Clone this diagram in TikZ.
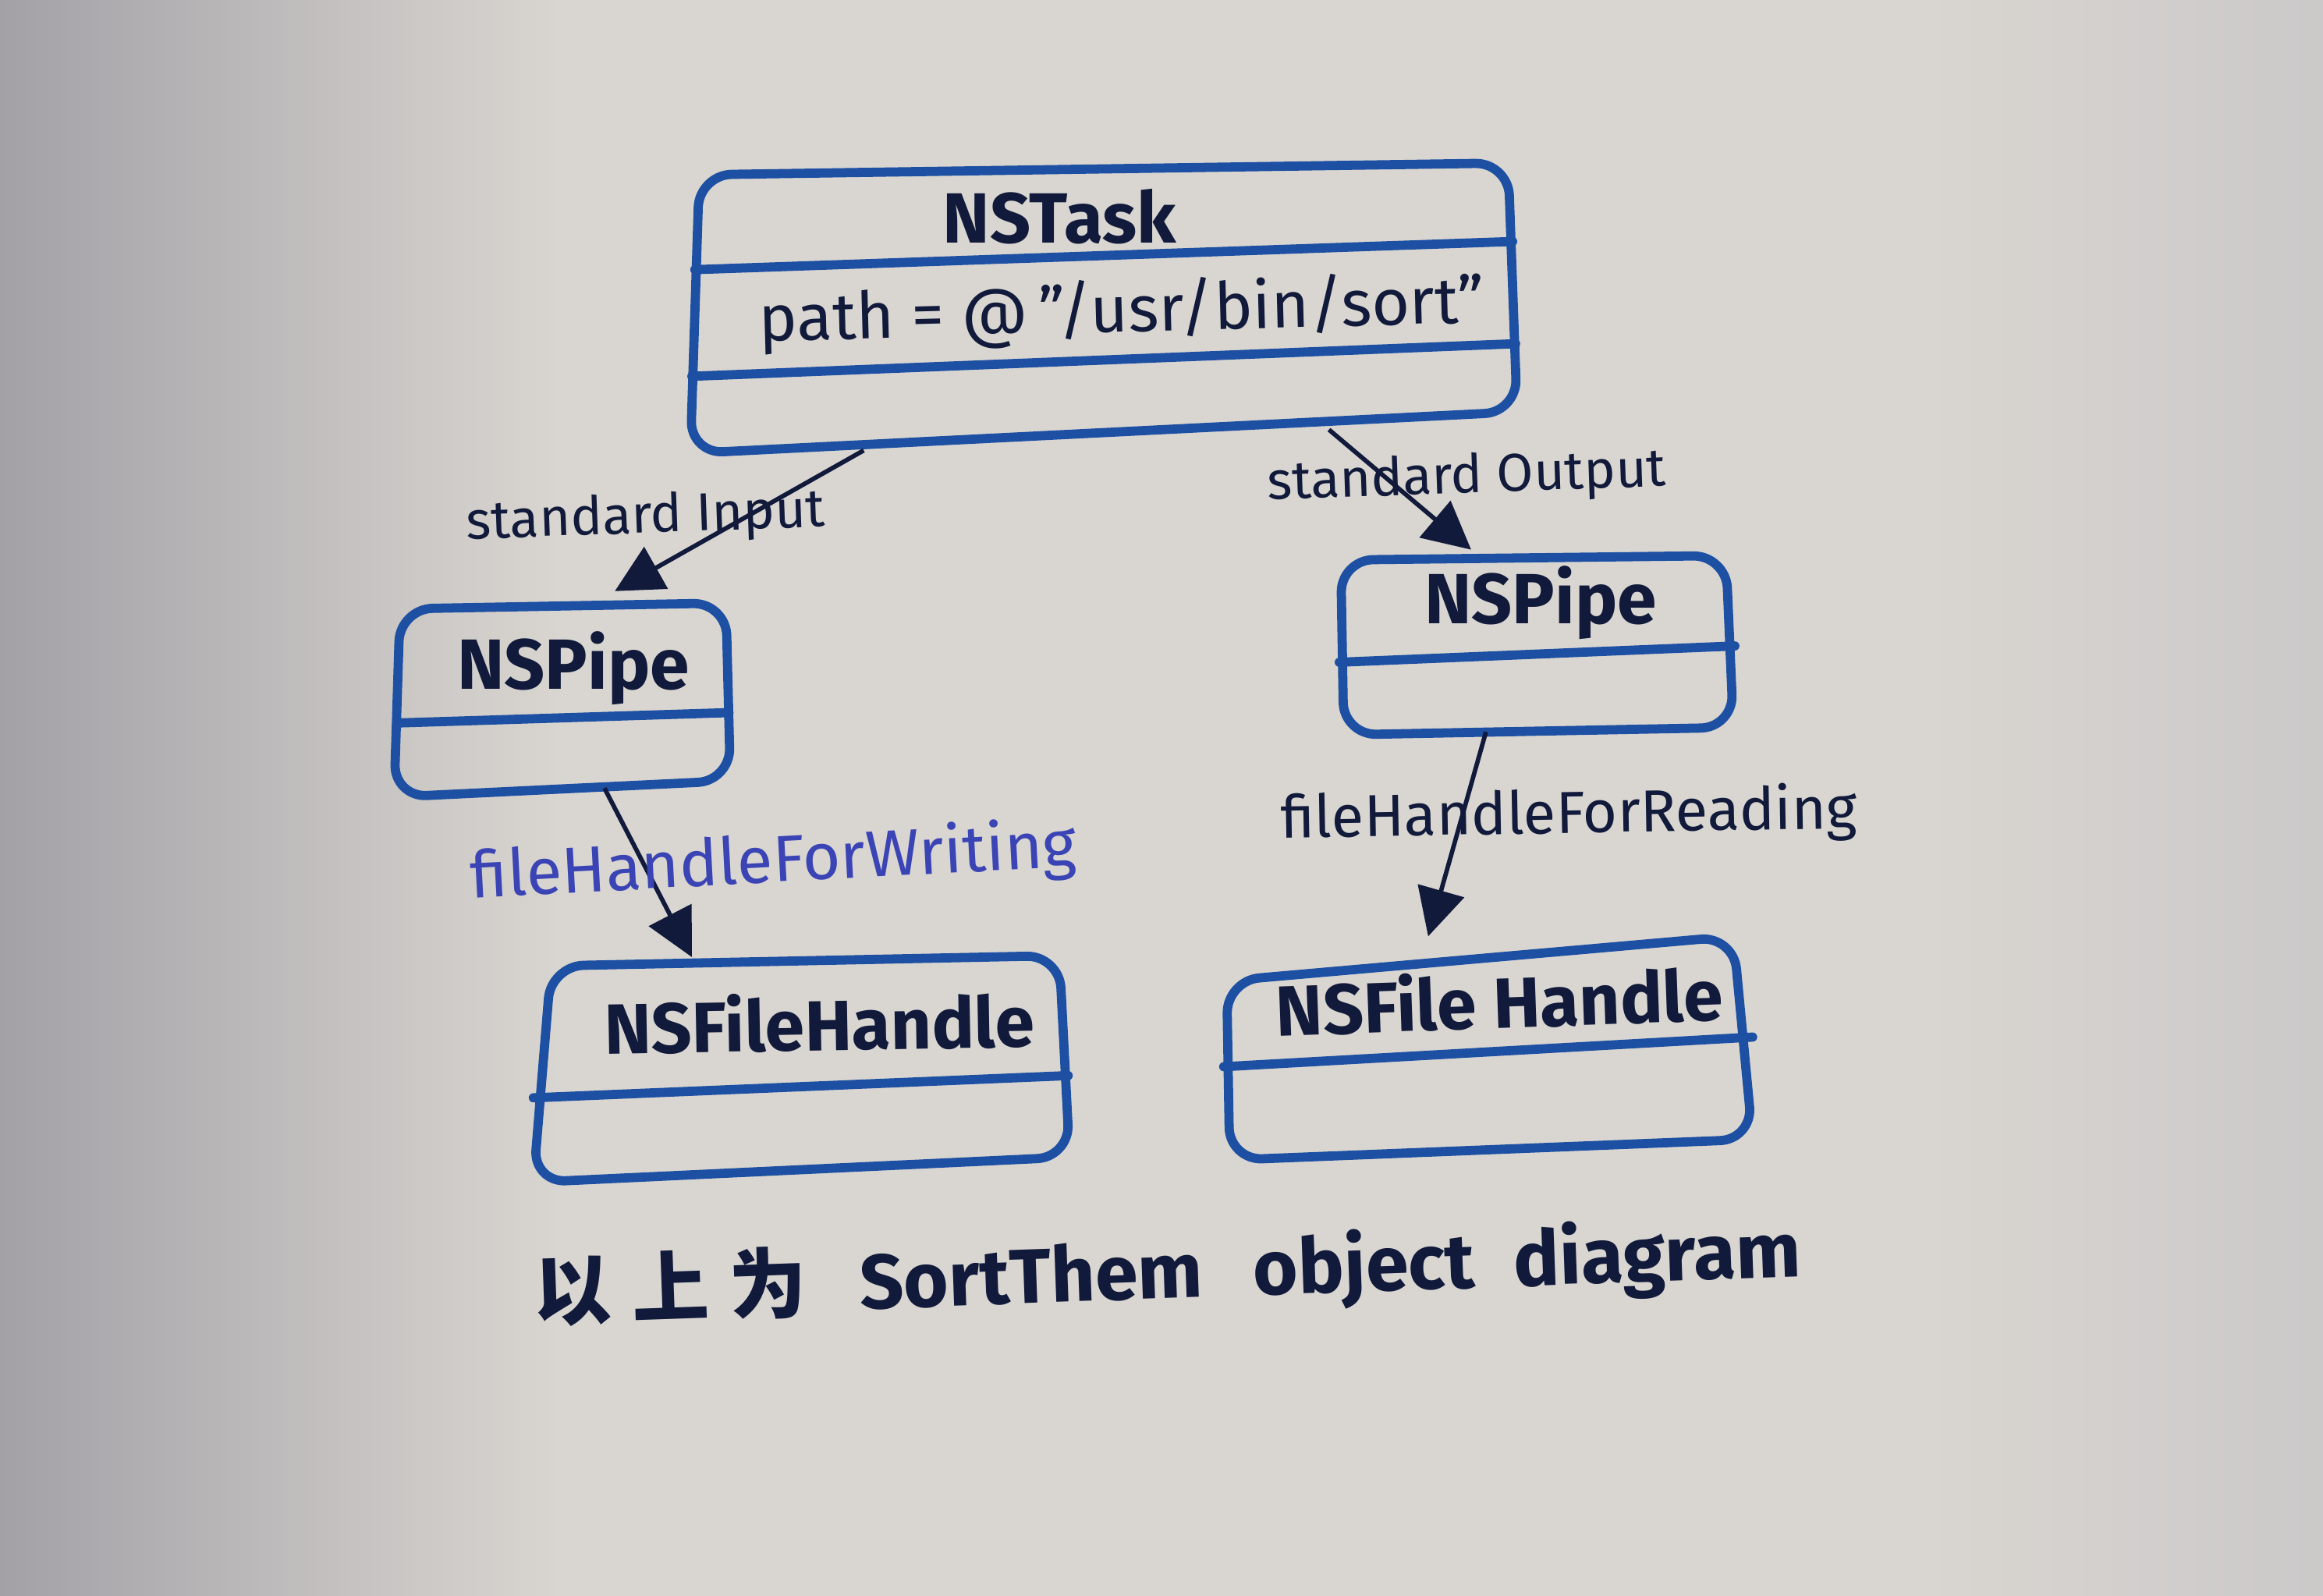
\documentclass[tikz,border=0pt]{standalone}
\usepackage{fontspec}
\setmainfont{Fira Sans}
\newfontfamily\cjk{Noto Sans CJK SC}
\usetikzlibrary{arrows.meta}
\definecolor{paper}{HTML}{D9D6D1}
\definecolor{paperdark}{HTML}{A3A1A6}
\definecolor{paperright}{HTML}{CBC9C9}
\definecolor{boxblue}{HTML}{1D4FA3}
\definecolor{ink}{HTML}{111A3A}
\definecolor{violetink}{HTML}{3B44B5}
\tikzset{
  objbox/.style={draw=boxblue, line width=3.1pt, rounded corners=11pt, line join=round},
  divider/.style={draw=boxblue, line width=3.1pt, line cap=round},
  link/.style={draw=ink, line width=1.5pt, -{Triangle[length=16pt,width=16pt]}},
  title/.style={text=ink, font=\fontsize{24}{28}\selectfont\bfseries, inner sep=0pt},
  lbl/.style={text=ink, font=\fontsize{18}{21}\selectfont, inner sep=0pt},
}
\begin{document}
\begin{tikzpicture}[x=0.5pt,y=-0.5pt]
\useasboundingbox (0,0) rectangle (1568,1077);
% paper
\fill[paper] (0,0) rectangle (1568,1077);
\shade[left color=paperdark, right color=paper] (0,0) rectangle (380,1077);
\shade[left color=paper, right color=paperright] (1300,0) rectangle (1568,1077);

% NSTask
\draw[objbox] (472,118) -- (1018,110) -- (1024,278) -- (466,306) -- cycle;
\draw[divider] (469,182) -- (1021,163);
\draw[divider] (467,254) -- (1023,232);
\node[title] (task) at (715,146) {NSTask};
\node[text=ink, font=\fontsize{22}{26}\selectfont, inner sep=0pt, rotate=1.5] (taskpath) at (757,211) {path = @\,"/usr/bin/sort"};
\coordinate (taskL) at (583,304);
\coordinate (taskR) at (897,290);

% left NSPipe
\draw[objbox] (270,411) -- (490,407) -- (493,527) -- (266,538) -- cycle;
\draw[divider] (268,488) -- (492,481);
\node[title] (pipeL) at (387,451) {NSPipe};
\coordinate (pipeLtop) at (415,399);
\coordinate (pipeLbot) at (408,532);

% right NSPipe
\draw[objbox] (905,378) -- (1165,375) -- (1170,491) -- (907,496) -- cycle;
\draw[divider] (904,447) -- (1171,436);
\node[title] (pipeR) at (1040,407) {NSPipe};
\coordinate (pipeRtop) at (993,371);
\coordinate (pipeRbot) at (1003,494);

% left NSFileHandle
\draw[objbox] (372,652) -- (715,645) -- (722,781) -- (360,798) -- cycle;
\draw[divider] (360,741) -- (721,726);
\node[title, rotate=1] (fhL) at (553,690) {NSFileHandle};
\coordinate (fhLtop) at (467,646);

% right NSFileHandle
\draw[objbox] (828,662) -- (1170,632) -- (1183,769) -- (830,783) -- cycle;
\draw[divider] (826,720) -- (1183,700);
\node[title, rotate=2] (fhR) at (1012,675) {NSFile Handle};
\coordinate (fhRtop) at (964,632);

% connectors
\draw[link] (taskL) -- (pipeLtop);
\draw[link] (taskR) -- (pipeRtop);
\draw[link] (pipeLbot) -- (fhLtop);
\draw[link] (pipeRbot) -- (fhRtop);

% labels
\node[lbl, rotate=2] (lin) at (436,350) {standard Input};
\node[lbl, rotate=2] (lout) at (990,323) {standard Output};
\node[text=violetink, font=\fontsize{22}{25}\selectfont, inner sep=0pt, rotate=3] (lwr) at (522,583) {fileHandleForWriting};
\node[text=ink, font=\fontsize{20}{24}\selectfont, inner sep=0pt, rotate=1] (lrd) at (1059,551) {fileHandleForReading};

% caption
\node[text=ink, font=\fontsize{26}{30}\selectfont\bfseries, inner sep=0pt, rotate=2] (cap) at (788,860)
  {{\cjk 以\hspace{7pt}上\hspace{7pt}为}\hspace{18pt}SortThem\hspace{17pt}object\hspace{13pt}diagram};
\end{tikzpicture}
\end{document}
